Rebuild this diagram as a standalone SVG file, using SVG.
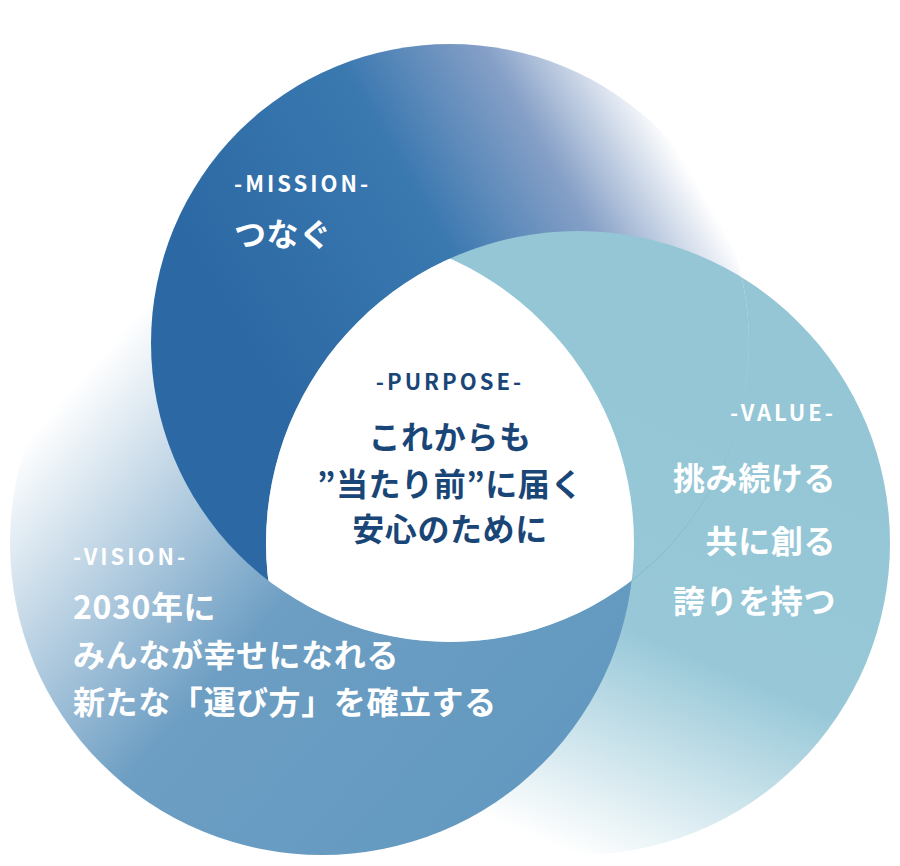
<svg xmlns="http://www.w3.org/2000/svg" width="900" height="866" viewBox="0 0 900 866">
<style>
text{font-family:"Noto Sans CJK JP","Noto Sans",sans-serif;font-weight:bold}
.w{fill:#ffffff}
.lab{font-size:22px;letter-spacing:3px}
.big{font-size:32px;letter-spacing:0.6px}
.p{fill:#1a4677}
</style>
<defs>
<linearGradient id="gM" gradientUnits="userSpaceOnUse" x1="300" y1="440" x2="730" y2="190">
<stop offset="0" stop-color="#2c69a4"/><stop offset="0.45" stop-color="#3a78b0"/><stop offset="0.72" stop-color="#86a0c7"/><stop offset="0.95" stop-color="#ffffff"/>
</linearGradient>
<linearGradient id="gV" gradientUnits="userSpaceOnUse" x1="720" y1="420" x2="540" y2="840">
<stop offset="0" stop-color="#94c6d6"/><stop offset="0.5" stop-color="#98c8d8"/><stop offset="1" stop-color="#ffffff"/>
</linearGradient>
<linearGradient id="gS" gradientUnits="userSpaceOnUse" x1="520" y1="790" x2="70" y2="390">
<stop offset="0" stop-color="#6399c0"/><stop offset="0.5" stop-color="#6d9ec3"/><stop offset="1" stop-color="#ffffff"/>
</linearGradient>
<clipPath id="cM"><circle cx="450" cy="343" r="299"/></clipPath>
<clipPath id="cS"><circle cx="322" cy="543" r="312"/></clipPath>
</defs>
<g id="value"><circle cx="578" cy="543" r="312" fill="url(#gV)"/></g>
<g id="vision"><circle cx="322" cy="543" r="312" fill="url(#gS)"/></g>
<g id="mission"><circle cx="450" cy="343" r="299" fill="url(#gM)"/>
<circle cx="578" cy="543" r="312" fill="url(#gV)" clip-path="url(#cM)"/></g>
<g id="purpose"><g clip-path="url(#cS)"><circle cx="578" cy="543" r="312" fill="#ffffff" clip-path="url(#cM)"/></g></g>
<g id="connectors"/>
<g id="mission-text" class="w">
<text x="234" y="192" class="lab">-MISSION-</text>
<text x="234" y="246" class="big">つなぐ</text>
</g>
<g id="purpose-text" class="p" text-anchor="middle">
<text x="450" y="390" class="lab">-PURPOSE-</text>
<text x="450" y="449" class="big">これからも</text>
<text x="450" y="496" class="big">”当たり前”に届く</text>
<text x="450" y="541" class="big">安心のために</text>
</g>
<g id="value-text" class="w" text-anchor="end">
<text x="836" y="421" class="lab">-VALUE-</text>
<text x="836" y="490" class="big">挑み続ける</text>
<text x="836" y="553" class="big">共に創る</text>
<text x="836" y="613" class="big">誇りを持つ</text>
</g>
<g id="vision-text" class="w">
<text x="73" y="565" class="lab">-VISION-</text>
<text x="73" y="619" class="big">2030年に</text>
<text x="73" y="667" class="big">みんなが幸せになれる</text>
<text x="73" y="714" class="big">新たな「運び方」を確立する</text>
</g>
</svg>
